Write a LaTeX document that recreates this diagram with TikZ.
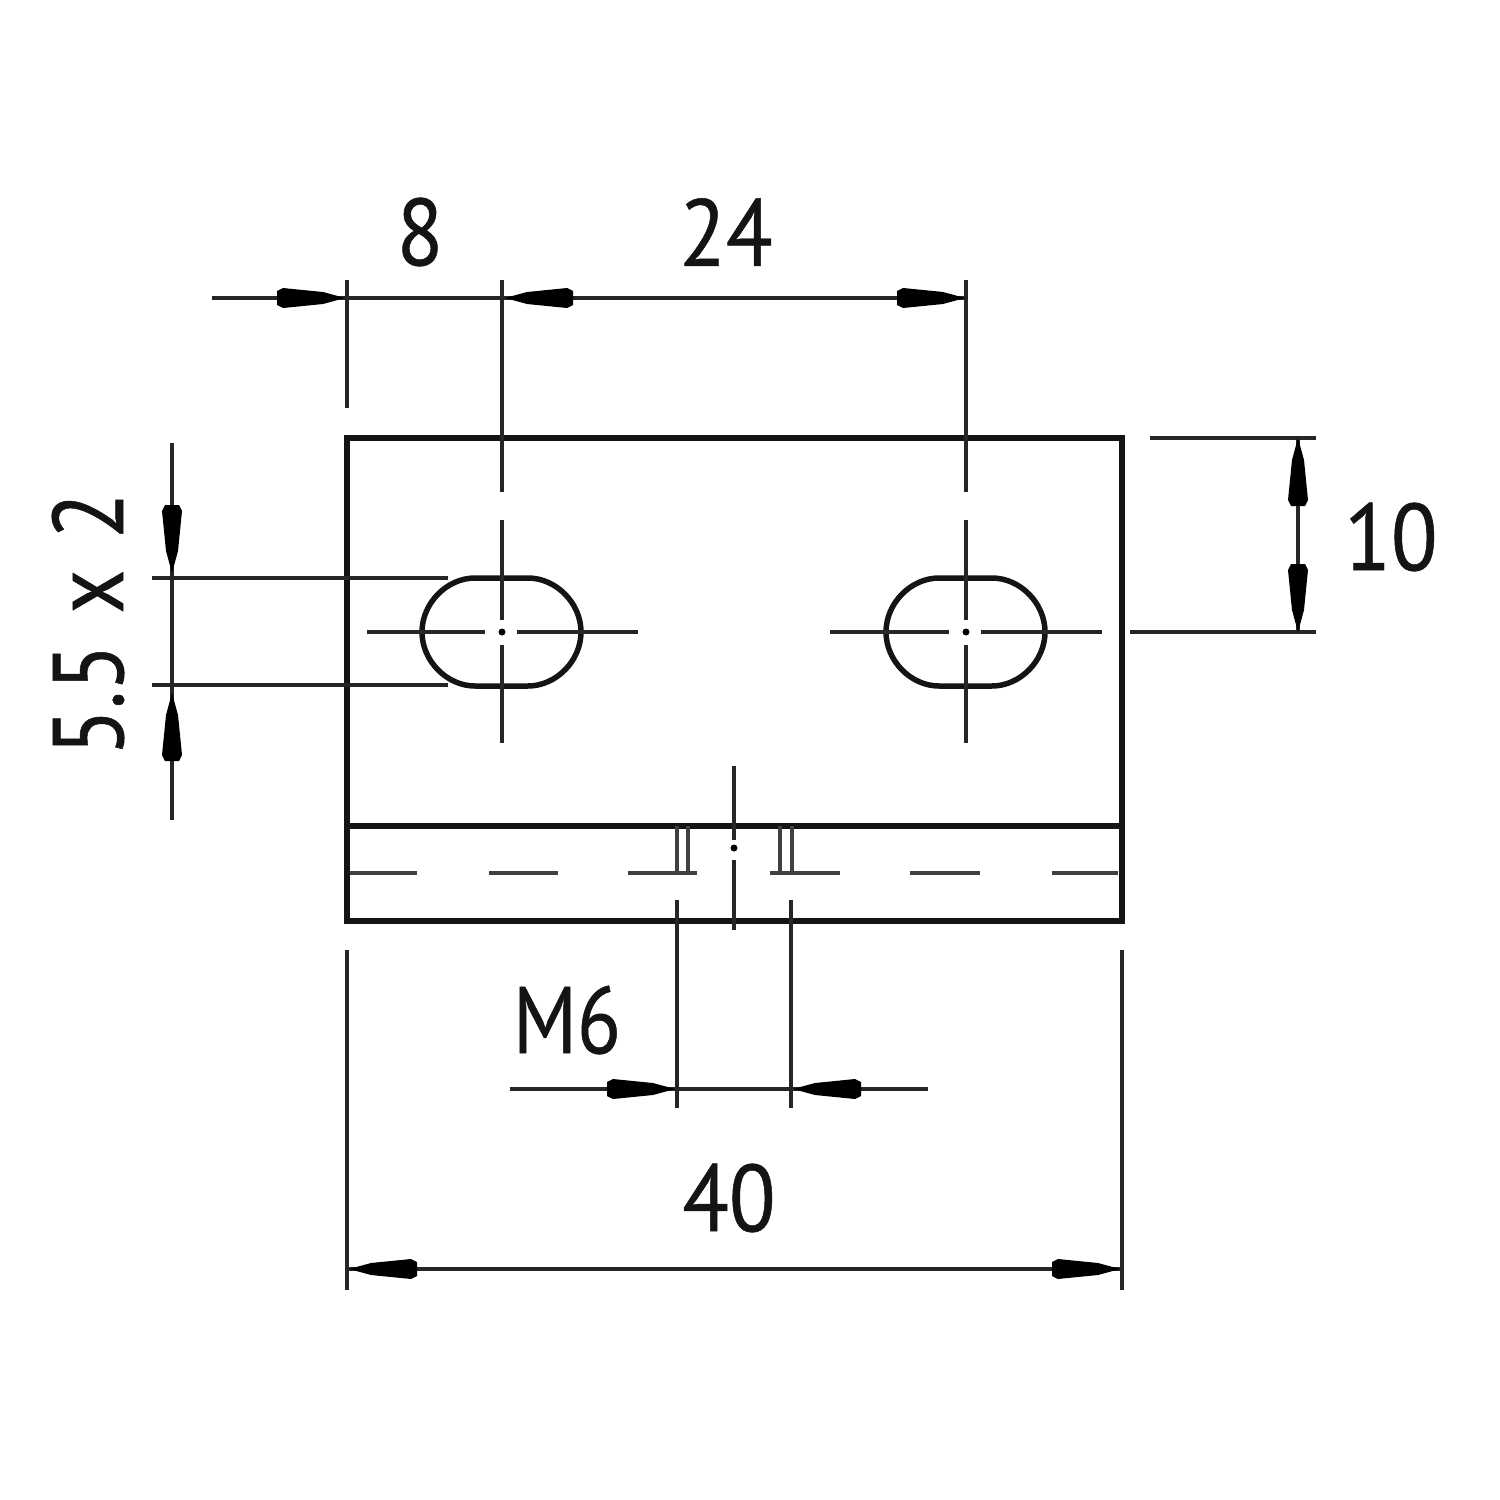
\documentclass[tikz,border=0pt]{standalone}
\usepackage{fontspec}
\newfontfamily\dimfont{PT Sans}[FakeStretch=0.85,FakeBold=0.5]
\newfontfamily\digitfont{PT Sans}[FakeStretch=0.9,FakeBold=0.5]
\newcommand{\headh}[3]{\fill[headfill] (#1,#2) -- ({#1-#3*22},{#2-6}) -- ({#1-#3*62},{#2-10}) -- ({#1-#3*68},{#2-7}) -- ({#1-#3*68},{#2+7}) -- ({#1-#3*62},{#2+10}) -- ({#1-#3*22},{#2+6}) -- cycle;}
\newcommand{\headv}[3]{\fill[headfill] (#1,#2) -- ({#1-6},{#2-#3*22}) -- ({#1-10},{#2-#3*62}) -- ({#1-7},{#2-#3*68}) -- ({#1+7},{#2-#3*68}) -- ({#1+10},{#2-#3*62}) -- ({#1+6},{#2-#3*22}) -- cycle;}
\newcommand{\slotpath}[1]{\draw[outline] ({#1+26},578) .. controls ({#1+54},578) and ({#1+79},603) .. ({#1+79},632) .. controls ({#1+79},661) and ({#1+54},686) .. ({#1+26},686) -- ({#1-27},686) .. controls ({#1-55},686) and ({#1-80},661) .. ({#1-80},632) .. controls ({#1-80},603) and ({#1-55},578) .. ({#1-27},578) -- cycle;}
\tikzset{
  x=0.01cm,y=-0.01cm,
  outline/.style={line width=0.55mm,black!92},
  heavy/.style={line width=0.65mm,black!92},
  dimline/.style={line width=0.38mm,black!85},
  hidden/.style={line width=0.38mm,black!75},
  headfill/.style={fill=black},
  dimtext/.style={inner sep=0pt,font=\dimfont\fontsize{27}{27}\selectfont,text=black!92},
  digittext/.style={inner sep=0pt,font=\digitfont\fontsize{27}{27}\selectfont,text=black!92},
  sidetext/.style={inner sep=0pt,font=\dimfont\fontsize{28.5}{28.5}\selectfont,text=black!92}
}
\begin{document}
\begin{tikzpicture}
\useasboundingbox (0,0) rectangle (1500,1500);
% body
\draw[outline] (347,438) rectangle (1122,921);
\draw[heavy] (347,438) -- (1122,438);
\draw[heavy] (347,826) -- (1122,826);
% slots
\slotpath{502}
\slotpath{966}
% centre lines, left slot
\draw[dimline] (502,280) -- (502,492);
\draw[dimline] (502,520) -- (502,620);
\draw[dimline] (502,645) -- (502,743);
\draw[dimline] (367,632) -- (485,632);
\draw[dimline] (517,632) -- (638,632);
\fill (502,632) circle[radius=3.5];
% centre lines, right slot
\draw[dimline] (966,280) -- (966,492);
\draw[dimline] (966,520) -- (966,620);
\draw[dimline] (966,645) -- (966,743);
\draw[dimline] (830,632) -- (949,632);
\draw[dimline] (981,632) -- (1102,632);
\fill (966,632) circle[radius=3.5];
% centre line of thread
\draw[dimline] (734,766) -- (734,840);
\draw[dimline] (734,860) -- (734,930);
\fill (734,848) circle[radius=3.5];
% hidden line
\foreach \a/\b in {350/417,489/558,628/697,770/840,910/980,1052/1118}{\draw[hidden] (\a,873) -- (\b,873);}
\foreach \a in {677,688,780,792}{\draw[hidden] (\a,826) -- (\a,873);}
% extension lines
\draw[dimline] (347,280) -- (347,408);
\draw[dimline] (1150,438) -- (1316,438);
\draw[dimline] (1130,632) -- (1316,632);
\draw[dimline] (152,578) -- (448,578);
\draw[dimline] (152,685) -- (448,685);
\draw[dimline] (347,950) -- (347,1290);
\draw[dimline] (1122,950) -- (1122,1290);
\draw[dimline] (677,900) -- (677,1108);
\draw[dimline] (791,900) -- (791,1108);
% dimension lines
\draw[dimline] (212,298) -- (966,298);
\draw[dimline] (1298,438) -- (1298,632);
\draw[dimline] (172,443) -- (172,820);
\draw[dimline] (510,1089) -- (928,1089);
\draw[dimline] (347,1269) -- (1122,1269);
% arrowheads
\headh{345}{298}{1}
\headh{505}{298}{-1}
\headh{965}{298}{1}
\headv{1298}{438}{-1}
\headv{1298}{632}{1}
\headv{172}{573}{1}
\headv{172}{693}{-1}
\headh{675}{1089}{1}
\headh{793}{1089}{-1}
\headh{349}{1269}{-1}
\headh{1120}{1269}{1}
% labels
\node[digittext] (l8) at (420,232) {8};
\node[digittext] (l24) at (726,232) {24};
\node[digittext] (l10) at (1391,537) {10};
\node[dimtext] (lm6) at (567,1020) {M6};
\node[digittext] (l40) at (729,1198) {40};
\node[sidetext,rotate=90] (l55) at (88,624) {5.5\hspace{.08em} x\hspace{.08em} 2};
\end{tikzpicture}
\end{document}
